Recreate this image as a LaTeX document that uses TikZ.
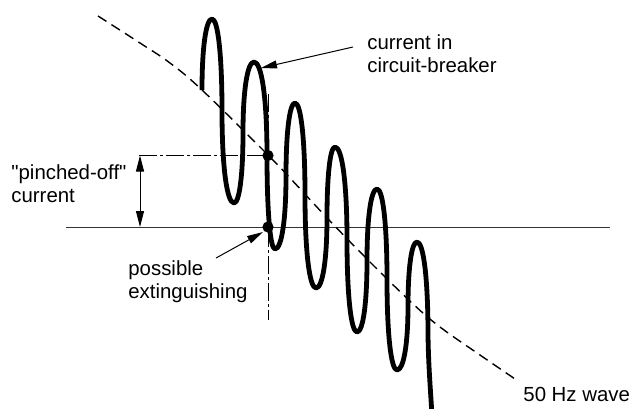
\documentclass[tikz,border=0pt]{standalone}
\usepackage{fontspec}
\setmainfont{Liberation Sans}[Ligatures=TeXOff]
\usetikzlibrary{arrows.meta}
\begin{document}
\begin{tikzpicture}[x=0.5pt,y=-0.5pt,
  osc/.style={line width=2.4pt, line join=round},
  wave/.style={line width=0.7pt, dash pattern=on 5pt off 3pt},
  guide/.style={line width=0.5pt, dash pattern=on 9pt off 1.5pt on 1.5pt off 1.5pt},
  baseln/.style={line width=0.5pt, black!80},
  lbl/.style={inner sep=0pt, anchor=north west, align=left, font=\fontsize{10.2pt}{11.5pt}\selectfont},
  ptr/.style={line width=0.5pt, -{Triangle[length=8pt,width=4pt]}},
  dblptr/.style={line width=0.5pt, {Triangle[length=8pt,width=4pt]}-{Triangle[length=8pt,width=4pt]}},
  blob/.style={circle, fill, inner sep=0pt, minimum size=5.6pt}]
\useasboundingbox (0,0) rectangle (635,408);
\clip (0,0) rectangle (635,408);
% guide coordinates
\coordinate (bl) at (66,227);
\coordinate (br) at (610,227);
\coordinate (vt) at (268,94);
\coordinate (vb) at (268,320);
\coordinate (hl) at (139,155.5);
\coordinate (hr) at (268,155.5);
\coordinate (da) at (140,155.5);
\coordinate (db) at (140,227);
% baseline
\draw[baseln] (bl) -- (br);
% dash-dot guides
\draw[guide] (vt) -- (vb);
\draw[guide] (hl) -- (hr);
% 50 Hz wave
\draw[wave] plot[smooth, tension=0.6] coordinates {(98,16) (140,43) (170,63) (202,90) (268,155) (290,178) (330,221) (370,262) (412,303) (440,327) (480,355) (518,381)};
% current in circuit-breaker
\draw[osc] (202,90)
  .. controls (202,47.4) and (206,19) .. (212,19)
  .. controls (218,19) and (222,55.8) .. (222,111)
  .. controls (222,166.2) and (226.8,203) .. (234,203)
  .. controls (239.4,203) and (243,174.8) .. (243,132.5)
  .. controls (243,90.2) and (247.4,62) .. (254,62)
  .. controls (261.8,62) and (267,99.4) .. (267,155.5)
  .. controls (267,211.6) and (270.2,249) .. (275,249)
  .. controls (281.6,249) and (286,219.8) .. (286,176)
  .. controls (286,132.2) and (289.6,103) .. (295,103)
  .. controls (301,103) and (305,140) .. (305,195.5)
  .. controls (305,251) and (309.4,288) .. (316,288)
  .. controls (322.6,288) and (327,259.8) .. (327,217.5)
  .. controls (327,175.2) and (330.2,147) .. (335,147)
  .. controls (342.2,147) and (347,184) .. (347,239.5)
  .. controls (347,295) and (351,332) .. (357,332)
  .. controls (363,332) and (367,303.4) .. (367,260.5)
  .. controls (367,217.6) and (371,189) .. (377,189)
  .. controls (383,189) and (387,225.2) .. (387,279.5)
  .. controls (387,333.8) and (391,370) .. (397,370)
  .. controls (403.6,370) and (408,344.4) .. (408,306)
  .. controls (408,267.6) and (411.6,242) .. (417,242)
  .. controls (423.6,242) and (428,279.2) .. (428,335)
  .. controls (428.5,370) and (431,395) .. (432.5,425);
% dots
\node[blob] (pinch) at (268,155.5) {};
\node[blob] (ext) at (268,227) {};
% labels
\node[lbl] (cib) at (367,34.5) {current in\\circuit-breaker};
\node[lbl] (poc) at (11,164.5) {"pinched-off"\\current};
\node[lbl] (pex) at (128,260.5) {possible\\extinguishing};
\node[lbl] (hz) at (523,387) {50 Hz wave};
% pointers
\coordinate (cibs) at (353,47);
\coordinate (cibt) at (261,68);
\coordinate (pexs) at (216,258);
\coordinate (pext) at (263,232);
\draw[ptr] (cibs) -- (cibt);
\draw[ptr] (pexs) -- (pext);
\draw[dblptr] (da) -- (db);
\end{tikzpicture}
\end{document}
